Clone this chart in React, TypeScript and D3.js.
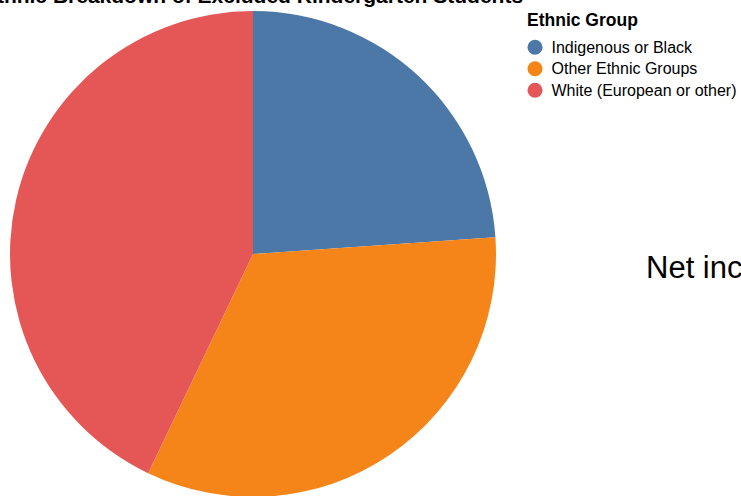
import React from "react";
import * as d3 from "d3";

const categories = ["Indigenous or Black", "Other Ethnic Groups", "White (European or other)"];
const values = [23.9, 33.2, 42.9];
const colors = ["#4c78a8", "#f58518", "#e45756"];
const titleText = "Ethnic Breakdown of Excluded Kindergarten Students";
const legendTitle = "Ethnic Group";
const sideText = "Net increase";

export default function App() {
  const W = 741, H = 496;
  const cx = 253, cy = 254, r = 243;
  const pie = d3.pie<number>().sort(null).value((d) => d);
  const arcs = pie(values);
  const arc = d3.arc<d3.PieArcDatum<number>>().innerRadius(0).outerRadius(r);
  const color = d3.scaleOrdinal<string, string>().domain(categories).range(colors);
  const font = "'Liberation Sans', Arial, Helvetica, sans-serif";
  return (
    <svg width={W} height={H} style={{ position: "fixed", left: 0, top: 0, background: "#fff" }} fontFamily={font}>
      <g transform={`translate(${cx},${cy})`}>
        {arcs.map((a, i) => (
          <path key={i} d={arc(a) || ""} fill={color(categories[i])} />
        ))}
      </g>
      <text x={cx} y={3} textAnchor="middle" fontSize={21} fontWeight="bold" fill="#000">{titleText}</text>
      <g transform="translate(527,0)">
        <text x={0} y={26} fontSize={17.5} fontWeight="bold" fill="#000">{legendTitle}</text>
        {categories.map((c, i) => (
          <g key={c} transform={`translate(0,${47.3 + i * 21.5})`}>
            <circle cx={8} cy={0} r={7.5} fill={color(c)} />
            <text x={24.5} y={5.5} fontSize={16} fill="#000">{c}</text>
          </g>
        ))}
      </g>
      <text x={646} y={278} fontSize={31} fill="#000">{sideText}</text>
    </svg>
  );
}
